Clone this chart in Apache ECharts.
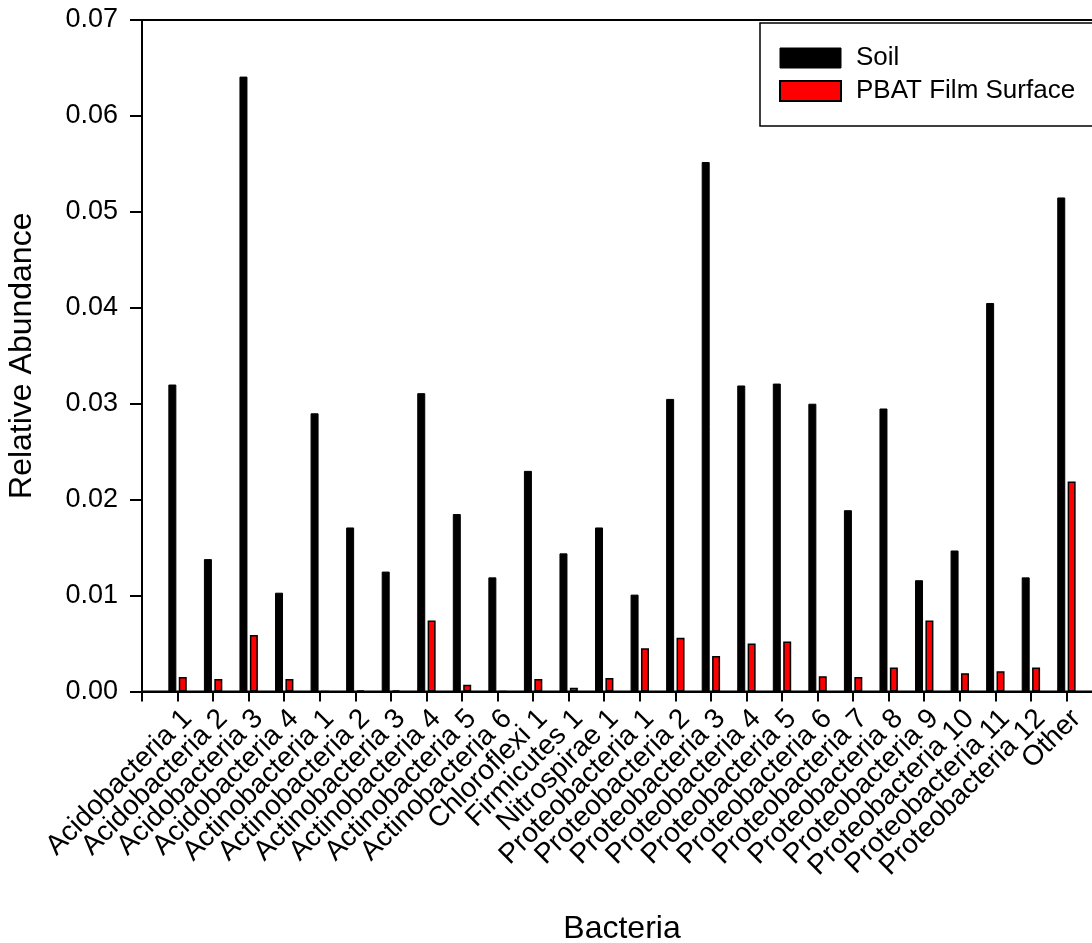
<!DOCTYPE html>
<html>
<head>
<meta charset="utf-8">
<title>Relative Abundance of Bacteria</title>
<script src="https://cdn.jsdelivr.net/npm/echarts@6/dist/echarts.min.js"></script>
<style>
  html, body { margin: 0; padding: 0; background: #ffffff; }
  #chart { width: 1092px; height: 943px; }
</style>
</head>
<body>
<div id="chart"></div>
<script>
// Bacterial groups along the x axis
const categories = [
  'Acidobacteria 1', 'Acidobacteria 2', 'Acidobacteria 3', 'Acidobacteria 4',
  'Actinobacteria 1', 'Actinobacteria 2', 'Actinobacteria 3', 'Actinobacteria 4',
  'Actinobacteria 5', 'Actinobacteria 6', 'Chloroflexi 1', 'Firmicutes 1',
  'Nitrospirae 1', 'Proteobacteria 1', 'Proteobacteria 2', 'Proteobacteria 3',
  'Proteobacteria 4', 'Proteobacteria 5', 'Proteobacteria 6', 'Proteobacteria 7',
  'Proteobacteria 8', 'Proteobacteria 9', 'Proteobacteria 10', 'Proteobacteria 11',
  'Proteobacteria 12', 'Other'
];

// Relative abundance in bulk soil
const soil = [
  0.0320, 0.0138, 0.0641, 0.0103,
  0.0290, 0.0171, 0.0125, 0.0311,
  0.0185, 0.0119, 0.0230, 0.0144,
  0.0171, 0.0101, 0.0305, 0.0552,
  0.0319, 0.0321, 0.0300, 0.0189,
  0.0295, 0.0116, 0.0147, 0.0405,
  0.0119, 0.0515
];

// Relative abundance on the PBAT film surface
const pbatFilm = [
  0.0015, 0.0013, 0.0059, 0.0013,
  0.0000, 0.0001, 0.0001, 0.0074,
  0.0007, 0.0000, 0.0013, 0.0004,
  0.0014, 0.0045, 0.0056, 0.0037,
  0.0050, 0.0052, 0.0016, 0.0015,
  0.0025, 0.0074, 0.0019, 0.0021,
  0.0025, 0.0219
];

// Y axis tick settings
const yMin = 0;
const yMax = 0.07;
const yStep = 0.01;

const FONT = "'Liberation Sans', Arial, sans-serif";

// Pad one empty slot on each side so the groups sit one step in from the frame
const axisCategories = [''].concat(categories, ['']);
const pad = arr => [null].concat(arr, [null]);

const chart = echarts.init(document.getElementById('chart'), null, { renderer: 'canvas' });

chart.setOption({
  backgroundColor: '#ffffff',
  animation: false,
  textStyle: { fontFamily: FONT, color: '#000' },
  grid: {
    left: 142, top: 20, width: 960, height: 671.5,
    outerBoundsMode: 'none',
    containLabel: false,
    show: true, borderColor: '#000', borderWidth: 2, backgroundColor: 'transparent'
  },
  legend: {
    left: 760, top: 23,
    orient: 'vertical',
    itemWidth: 61, itemHeight: 20, itemGap: 7,
    icon: 'rect',
    padding: [22, 40, 22, 19],
    backgroundColor: '#ffffff',
    borderColor: '#000', borderWidth: 1.5, borderRadius: 0,
    textStyle: { fontFamily: FONT, fontSize: 26, color: '#000', lineHeight: 26, padding: [0, 0, 0, 10] },
    data: [
      { name: 'Soil', itemStyle: { color: '#000', borderColor: '#000', borderWidth: 1 } },
      { name: 'PBAT Film Surface', itemStyle: { color: '#ff0000', borderColor: '#000', borderWidth: 2 } }
    ]
  },
  xAxis: {
    type: 'category',
    data: axisCategories,
    boundaryGap: false,
    name: 'Bacteria',
    nameLocation: 'middle',
    nameGap: 222,
    nameTextStyle: { fontFamily: FONT, fontSize: 32, color: '#000' },
    axisLine: { lineStyle: { color: '#000', width: 2 } },
    axisTick: { show: true, interval: 0, length: 10, inside: false, lineStyle: { color: '#000', width: 2 } },
    axisLabel: {
      interval: 0, rotate: 45, margin: 13,
      align: 'right', verticalAlign: 'top',
      fontFamily: FONT, fontSize: 28, color: '#000'
    },
    splitLine: { show: false }
  },
  yAxis: {
    type: 'value',
    min: yMin, max: yMax, interval: yStep,
    name: 'Relative Abundance',
    nameLocation: 'middle',
    nameGap: 104,
    nameRotate: 90,
    nameTextStyle: { fontFamily: FONT, fontSize: 32, color: '#000' },
    axisLine: { show: true, lineStyle: { color: '#000', width: 2 } },
    axisTick: { show: true, length: 12, inside: false, lineStyle: { color: '#000', width: 2 } },
    axisLabel: {
      margin: 24, fontFamily: FONT, fontSize: 27, color: '#000',
      formatter: v => v.toFixed(2)
    },
    splitLine: { show: false }
  },
  series: [
    {
      name: 'Soil',
      type: 'bar',
      data: pad(soil),
      barWidth: 8,
      barGap: '30%',
      itemStyle: { color: '#000', borderColor: '#000', borderWidth: 1 }
    },
    {
      name: 'PBAT Film Surface',
      type: 'bar',
      data: pad(pbatFilm),
      barWidth: 8,
      itemStyle: { color: '#ff0000', borderColor: '#000', borderWidth: 1.5 }
    }
  ]
});
</script>
</body>
</html>
